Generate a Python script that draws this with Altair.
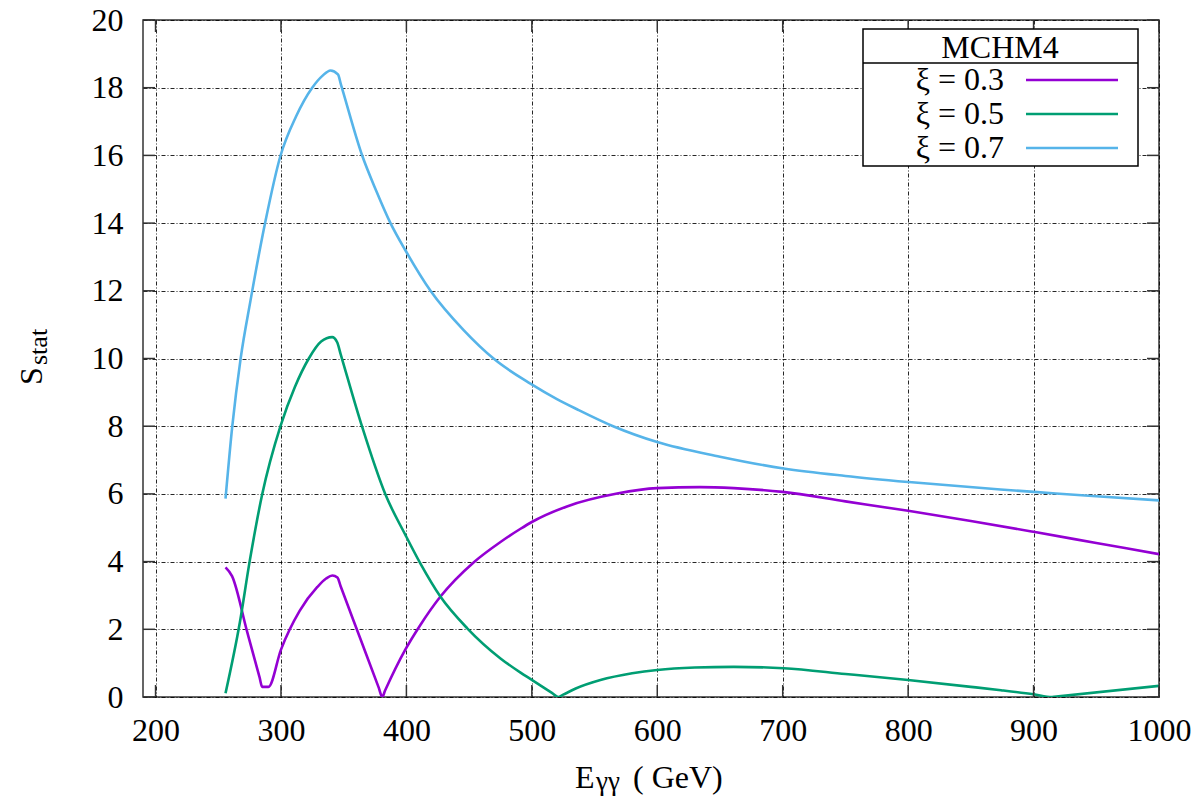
import altair as alt
import pandas as pd

# ---------------- data ----------------
series_names = ["ξ = 0.3", "ξ = 0.5", "ξ = 0.7"]
colors = ["#9400d3", "#009e73", "#56b4e9"]

x_03 = [255.8, 261, 273, 283, 285, 290, 300, 315, 329, 336, 341, 345, 347.5, 363, 378,
        380.7, 383, 399, 411, 427, 454, 475, 491, 500, 528, 568, 600, 634, 661, 700,
        750, 800, 850, 900, 950, 1000]
y_03 = [3.83, 3.57, 1.93, 0.57, 0.30, 0.30, 1.40, 2.55, 3.25, 3.50, 3.59, 3.53, 3.28, 1.75, 0.27,
        0.0, 0.19, 1.39, 2.12, 2.96, 3.99, 4.58, 4.97, 5.17, 5.63, 6.01, 6.17, 6.20, 6.17, 6.06,
        5.78, 5.50, 5.20, 4.88, 4.55, 4.22]

x_05 = [255.8, 267.2, 275, 285, 299.6, 311, 322.2, 332, 340.8, 344.8, 347.5, 364.8, 383.3,
        399.3, 411.2, 427.2, 448.5, 475, 491, 500.3, 516, 521, 525, 535, 554.7, 580, 600, 630,
        661, 700.8, 750, 800, 850, 874, 900, 914.7, 920, 1000]
y_05 = [0.11, 2.2, 4.0, 5.98, 8.0, 9.15, 10.0, 10.5, 10.63, 10.48, 10.14, 7.97, 5.98,
        4.78, 3.94, 2.96, 2.03, 1.14, 0.72, 0.50, 0.12, 0.0, 0.07, 0.25, 0.50, 0.70, 0.80, 0.87,
        0.89, 0.85, 0.68, 0.50, 0.30, 0.20, 0.08, 0.0, 0.02, 0.33]

x_07 = [255.8, 261.1, 267.8, 275.7, 287.7, 299.6, 312, 324.9, 333, 339.5, 345.4, 348,
        364.8, 376, 387.3, 399.3, 419.2, 445.8, 469.7, 499.2, 520, 536, 565.3,
        599.9, 650, 700.8, 750, 800.5, 873.6, 900.4, 950, 1000]
y_07 = [5.86, 7.97, 9.99, 11.71, 14.07, 15.99, 17.15, 18.0, 18.35, 18.51, 18.39, 18.07,
        15.99, 14.95, 14.0, 13.19, 12.0, 10.83, 9.99, 9.25, 8.8, 8.5, 7.99,
        7.53, 7.1, 6.75, 6.53, 6.35, 6.13, 6.06, 5.93, 5.81]

x_ticks = [200, 300, 400, 500, 600, 700, 800, 900, 1000]
y_ticks = [0, 2, 4, 6, 8, 10, 12, 14, 16, 18, 20]

# ---------------- tables ----------------
rows = []
for name, xs, ys in zip(series_names, [x_03, x_05, x_07], [y_03, y_05, y_07]):
    for i, (a, b) in enumerate(zip(xs, ys)):
        rows.append({"E": a, "S": b, "series": name, "order": i})
df = pd.DataFrame(rows)
xt = pd.DataFrame({"t": x_ticks})
yt = pd.DataFrame({"t": y_ticks})

W, H = 1016, 677
FONT = "Liberation Serif"
FS = 32
DASH = [4, 2, 1, 2]

x_scale = alt.Scale(domain=[190, 1000], nice=False, zero=False)
y_scale = alt.Scale(domain=[0, 20], nice=False, zero=False)

x_axis = alt.Axis(values=x_ticks, format="d", title=None, grid=True, gridDash=DASH,
                  gridColor="#000", gridWidth=1, gridOpacity=0.85, ticks=False, domain=False,
                  labelFont=FONT, labelFontSize=FS, labelColor="#000", labelPadding=18,
                  labelFlush=False, labelOverlap=False)
y_axis = alt.Axis(values=y_ticks, format="d", title=None, grid=True, gridDash=DASH,
                  gridColor="#000", gridWidth=1, gridOpacity=0.85, ticks=False, domain=False,
                  labelFont=FONT, labelFontSize=FS, labelColor="#000", labelPadding=20,
                  labelFlush=False, labelOverlap=False)


def X(field):
    return alt.X(field, scale=x_scale, axis=x_axis)


def Y(field):
    return alt.Y(field, scale=y_scale, axis=y_axis)


lines = alt.Chart(df).mark_line(strokeWidth=2.6, clip=True, interpolate="monotone").encode(
    x=X("E:Q"), y=Y("S:Q"),
    color=alt.Color("series:N", scale=alt.Scale(domain=series_names, range=colors), legend=None),
    order=alt.Order("order:Q"),
)

tick_style = dict(color="#333", strokeWidth=1.5)
xt_bot = alt.Chart(xt).mark_rule(**tick_style).encode(x=X("t:Q"), y=alt.value(H), y2=alt.value(H - 12))
xt_top = alt.Chart(xt).mark_rule(**tick_style).encode(x=X("t:Q"), y=alt.value(0), y2=alt.value(12))
yt_left = alt.Chart(yt).mark_rule(**tick_style).encode(y=Y("t:Q"), x=alt.value(0), x2=alt.value(12))
yt_right = alt.Chart(yt).mark_rule(**tick_style).encode(y=Y("t:Q"), x=alt.value(W), x2=alt.value(W - 12))

one = alt.Data(values=[{"k": 1}])

# legend box
lx0, lx1, ly0, ly1 = 720, 995, 9, 146
box = alt.Chart(one).mark_rect(fill="white", stroke="#000", strokeWidth=1.5).encode(
    x=alt.value(lx0), x2=alt.value(lx1), y=alt.value(ly0), y2=alt.value(ly1))
sep = alt.Chart(one).mark_rule(color="#000", strokeWidth=1.5).encode(
    x=alt.value(lx0), x2=alt.value(lx1), y=alt.value(43))
ltitle = alt.Chart(one).mark_text(font=FONT, fontSize=FS, color="#000", align="center",
                                  baseline="alphabetic").encode(
    x=alt.value(857), y=alt.value(38), text=alt.value("MCHM4"))

legend_layers = []
entry_y = [60, 94, 128]
for name, col, yy in zip(series_names, colors, entry_y):
    legend_layers.append(
        alt.Chart(one).mark_text(font=FONT, fontSize=FS, color="#000", align="right",
                                 baseline="middle").encode(
            x=alt.value(861), y=alt.value(yy), text=alt.value(name)))
    legend_layers.append(
        alt.Chart(one).mark_rule(color=col, strokeWidth=2.5).encode(
            x=alt.value(883), x2=alt.value(975), y=alt.value(yy)))


# axis titles with subscripts
def txt(s, x, y, size, align="left", angle=None):
    kw = dict(font=FONT, fontSize=size, color="#000", align=align, baseline="alphabetic")
    if angle is not None:
        kw["angle"] = angle
    return alt.Chart(one).mark_text(**kw).encode(x=alt.value(x), y=alt.value(y), text=alt.value(s))


xt1 = txt("E", 432, 768, FS)
xt2 = txt("γγ", 453, 770, 27)
xt3 = txt("( GeV)", 490, 768, FS)
yt1 = txt("S", -101, 365, FS, angle=270)
yt2 = txt("stat", -96, 345, 26, angle=270)

chart = alt.layer(
    lines, xt_bot, xt_top, yt_left, yt_right, box, sep, ltitle, *legend_layers,
    xt1, xt2, xt3, yt1, yt2
).properties(
    width=W, height=H,
    autosize=alt.AutoSizeParams(type="none"),
    padding={"left": 135, "top": 12, "right": 34, "bottom": 100},
).configure_view(stroke="#333", strokeWidth=1.5)

chart.save("out.html", embed_options={"renderer": "svg", "actions": False})
